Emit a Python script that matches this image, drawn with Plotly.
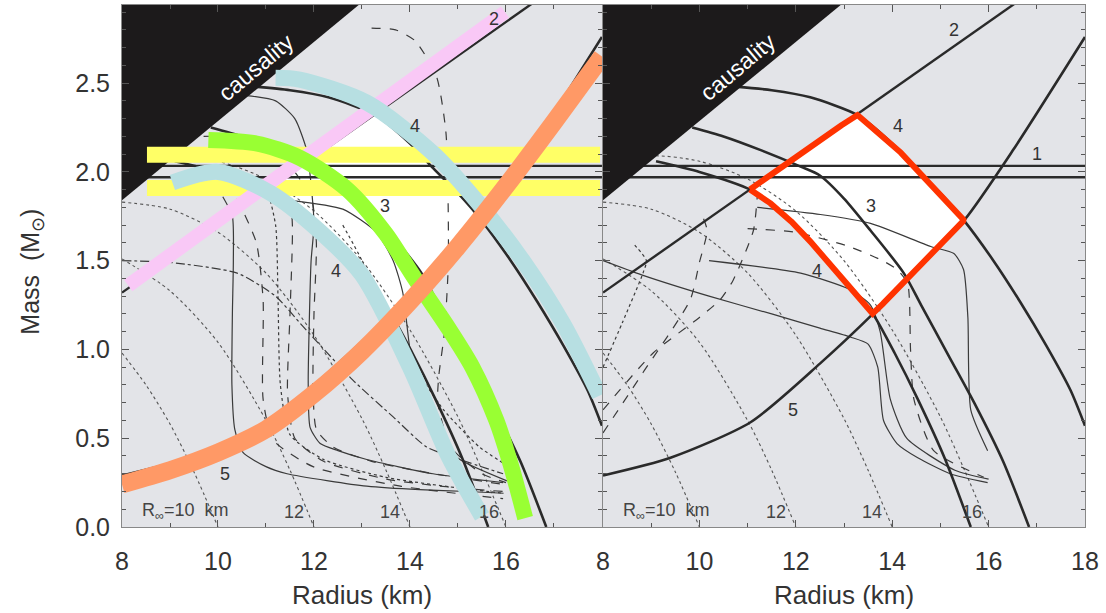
import numpy as np
import plotly.graph_objects as go

# ---------------- data (R in km, M in solar masses) ----------------
caus_R = [8.0, 13.2]
caus_M = [1.84, 3.0]

line1_R = [8.0, 18.0]
line1_lo = [1.97, 1.97]
line1_hi = [2.034, 2.034]

line2_R = [8.0, 17.0]
line2_M = [1.32, 3.035]

A_R = [10.75, 11.5, 12.3, 13.28, 14.0, 14.45, 15.0, 15.48, 16.1, 16.65, 17.2, 17.7, 18.0]
A_M = [2.48, 2.46, 2.42, 2.32, 2.16, 2.03, 1.88, 1.73, 1.5, 1.27, 1.02, 0.77, 0.57]

B_R = [9.85, 10.5, 11.3, 12.1, 12.5, 13.0, 13.55, 14.24, 14.6, 15.2, 15.7, 16.3, 16.84]
B_M = [2.25, 2.2, 2.12, 2.03, 1.98, 1.85, 1.67, 1.43, 1.25, 0.95, 0.7, 0.37, 0.0]

C_R = [9.1, 10.0, 11.06, 11.6, 12.1, 12.65, 13.1, 13.6, 14.05, 14.53, 15.1, 15.63]
C_M = [2.06, 2.0, 1.9, 1.8, 1.67, 1.5, 1.36, 1.2, 0.98, 0.72, 0.38, 0.0]

K5_R = [8.0, 9.4, 11.06, 12.5, 13.6, 14.5, 15.5, 16.5, 18.0]
K5_M = [0.29, 0.39, 0.59, 0.92, 1.2, 1.45, 1.73, 2.12, 2.76]

# constant R_infinity curves (dotted)
rinf10_R = [8.0, 8.5, 9.0, 9.5, 10.0]
rinf10_M = [0.98, 0.80, 0.58, 0.31, 0.0]
rinf12_R = [8.0, 9.0, 10.0, 11.0, 11.5, 12.0]
rinf12_M = [1.51, 1.33, 1.04, 0.60, 0.32, 0.0]
rinf14_R = [8.0, 9.0, 10.0, 11.0, 12.0, 13.0, 13.5, 14.0]
rinf14_M = [1.83, 1.79, 1.66, 1.43, 1.08, 0.61, 0.32, 0.0]
rinf16_R = [8.0, 9.0, 10.0, 11.0, 12.0, 13.0, 14.0, 15.0, 15.5, 16.0]
rinf16_M = [2.03, 2.09, 2.06, 1.96, 1.78, 1.50, 1.11, 0.62, 0.32, 0.0]

# thin EOS curves, left panel
L1_R = [10.1, 10.3, 10.32, 10.3, 10.29, 10.35, 10.52, 11.0, 11.44, 12.3, 13.1, 14.2, 15.2, 15.95]
L1_M = [1.86, 1.75, 1.5, 1.2, 0.8, 0.55, 0.42, 0.34, 0.3, 0.26, 0.23, 0.21, 0.2, 0.19]
L2_R = [10.6, 11.2, 11.6, 11.85, 11.95, 12.0, 11.94, 11.9, 11.88, 11.92, 12.13, 12.5, 13.1, 14.48, 15.94]
L2_M = [2.43, 2.40, 2.3, 2.12, 1.9, 1.7, 1.5, 1.13, 0.81, 0.56, 0.47, 0.43, 0.38, 0.30, 0.25]
L3_R = [10.4, 10.8, 10.94, 10.94, 11.15, 11.98, 13.8, 15.94]
L3_M = [1.85, 1.6, 1.28, 0.72, 0.49, 0.34, 0.23, 0.16]
L4_R = [10.5, 11.0, 11.2, 11.25, 11.3, 11.5, 12.2, 13.5, 15.0, 15.95]
L4_M = [2.0, 1.9, 1.7, 1.3, 0.8, 0.52, 0.38, 0.28, 0.22, 0.19]
L5_R = [11.6, 11.95, 12.05, 12.0, 11.98, 12.05, 12.4, 13.2, 14.5, 15.95]
L5_M = [2.0, 1.85, 1.6, 1.2, 0.8, 0.55, 0.45, 0.37, 0.3, 0.24]
L6_R = [11.5, 12.6, 13.3, 13.65, 13.85, 14.0, 14.21, 14.48, 15.04, 16.02]
L6_M = [1.84, 1.79, 1.66, 1.5, 1.32, 1.0, 0.75, 0.53, 0.38, 0.26]
L7_R = [13.2, 13.7, 14.1, 14.55, 14.75, 14.8, 14.72, 14.6, 14.58, 14.85, 15.5, 16.0]
L7_M = [2.81, 2.8, 2.74, 2.54, 2.22, 1.5, 1.1, 0.85, 0.7, 0.45, 0.3, 0.25]
L8_R = [9.7, 10.7, 11.2, 11.45, 11.55, 11.5, 11.45, 11.6, 12.2, 13.5, 15.0, 15.95]
L8_M = [2.2, 2.19, 2.1, 1.98, 1.7, 1.2, 0.75, 0.5, 0.37, 0.27, 0.22, 0.2]
L9_R = [8.0, 9.0, 10.4, 11.2, 11.77, 12.8, 13.65, 14.35, 15.04, 15.94]
L9_M = [1.5, 1.49, 1.43, 1.3, 1.13, 0.83, 0.62, 0.45, 0.38, 0.3]
L10_R = [12.6, 13.0, 13.4, 14.0, 14.7, 15.45, 16.0]
L10_M = [1.7, 1.5, 1.22, 0.94, 0.66, 0.45, 0.35]

# thin EOS curves, right panel
Ra1_R = [8.0, 8.8, 10.2, 11.5, 12.5, 13.13, 13.5, 13.7, 13.82, 14.1, 14.53, 15.2, 15.98]
Ra1_M = [1.5, 1.42, 1.3, 1.2, 1.12, 1.07, 1.03, 0.9, 0.6, 0.47, 0.39, 0.3, 0.25]
Ra2_R = [10.2, 12.1, 13.1, 13.55, 13.75, 13.96, 14.3, 15.3, 16.0]
Ra2_M = [1.5, 1.43, 1.34, 1.25, 1.1, 0.72, 0.5, 0.32, 0.27]
Rb_R = [11.2, 12.51, 13.55, 14.8, 15.28, 15.48, 15.57, 15.63, 15.98]
Rb_M = [1.80, 1.76, 1.71, 1.58, 1.54, 1.45, 1.18, 0.66, 0.43]
Rc_R = [11.0, 12.0, 13.1, 13.8, 14.1, 14.32, 14.38, 14.45, 14.86, 15.9]
Rc_M = [1.68, 1.66, 1.58, 1.5, 1.45, 1.37, 1.0, 0.72, 0.43, 0.28]
Rs1_R = [8.0, 8.83, 9.81, 10.0, 10.16, 10.05]
Rs1_M = [0.53, 0.87, 1.28, 1.49, 1.67, 1.76]
Rs2_R = [8.0, 9.04, 10.0, 10.43, 10.7, 11.12, 11.2]
Rs2_M = [0.66, 0.98, 1.18, 1.28, 1.39, 1.67, 1.86]
Rs3_R = [8.0, 8.4, 8.83, 8.9, 8.62]
Rs3_M = [0.9, 1.15, 1.43, 1.5, 1.6]

# coloured bands (left panel)
pink_R = [8.13, 15.98]
pink_M = [1.36, 2.90]
yellow_R = [8.52, 17.96]
yellow1_M = [2.096, 2.096]
yellow2_M = [1.91, 1.91]
green_R = [9.8, 10.8, 11.7, 12.7, 13.5, 14.1, 14.8, 15.3, 15.8, 16.1, 16.4]
green_M = [2.18, 2.16, 2.08, 1.9, 1.65, 1.4, 1.12, 0.9, 0.6, 0.35, 0.05]
blue1_R = [11.2, 11.7, 13.1, 14.5, 15.5, 16.35, 17.2, 17.95]
blue1_M = [2.53, 2.52, 2.39, 2.1, 1.8, 1.5, 1.14, 0.74]
blue2_R = [9.05, 10.0, 11.1, 12.1, 13.0, 14.0, 14.8, 15.5]
blue2_M = [1.94, 2.0, 1.88, 1.67, 1.42, 0.9, 0.4, 0.06]
orange_R = [8.0, 9.0, 10.0, 11.0, 12.0, 13.0, 14.0, 15.0, 16.0, 17.0, 18.0]
orange_M = [0.24, 0.32, 0.42, 0.55, 0.75, 0.99, 1.27, 1.58, 1.92, 2.28, 2.65]

# text labels
num_labels_right = ["1", "2", "4", "3", "4", "5"]
num_R_right = [17.0, 15.28, 14.11, 13.55, 12.45, 11.95]
num_M_right = [2.1, 2.8, 2.26, 1.81, 1.44, 0.66]
num_labels_left = ["2", "4", "3", "4", "5"]
num_R_left = [15.75, 14.11, 13.48, 12.45, 10.15]
num_M_left = [2.86, 2.26, 1.81, 1.44, 0.3]
rinf_labels = ["R<sub>∞</sub>=10  km", "12", "14", "16"]
rinf_label_R = [8.38, 11.58, 13.59, 15.65]
rinf_label_M = 0.085

# ---------------- figure ----------------
fig = go.Figure()
INK = "#2a2a2a"
THIN = "#3a3a3a"


def add(xs, ys, ax, **kw):
    fig.add_trace(go.Scatter(x=xs, y=ys, xaxis=ax[0], yaxis=ax[1], mode="lines",
                             hoverinfo="skip", showlegend=False, **kw))


# allowed region, derived from the constraint curves
g = np.linspace(9.0, 18.0, 1200)
up = np.minimum(np.interp(g, line2_R, line2_M),
                np.interp(g, A_R, A_M, left=np.nan, right=np.nan))
lo = np.maximum(np.interp(g, C_R, C_M, left=np.nan, right=np.nan),
                np.interp(g, K5_R, K5_M))
mask = up > lo
gx = g[mask]
poly_x = np.concatenate([gx, gx[::-1], gx[:1]])
poly_y = np.concatenate([up[mask], lo[mask][::-1], up[mask][:1]])

panels = [("x", "y"), ("x2", "y2")]
for ax in panels:
    add(poly_x, poly_y, ax, fill="toself", fillcolor="white", line=dict(width=0))
    for rr, mm in [(rinf10_R, rinf10_M), (rinf12_R, rinf12_M), (rinf14_R, rinf14_M), (rinf16_R, rinf16_M)]:
        add(rr, mm, ax, line=dict(color="#555", width=1.1, dash="dot", shape="spline", smoothing=0.8))

left_thin = [(L1_R, L1_M, "solid"), (L2_R, L2_M, "solid"), (L3_R, L3_M, "dash"), (L4_R, L4_M, "dot"),
             (L5_R, L5_M, "dash"), (L6_R, L6_M, "solid"), (L7_R, L7_M, "dash"), (L8_R, L8_M, "dash"),
             (L9_R, L9_M, "dashdot"), (L10_R, L10_M, "dot")]
for rr, mm, ds in left_thin:
    add(rr, mm, panels[0], line=dict(color=THIN, width=1.2, dash=ds, shape="spline", smoothing=0.6))

right_thin = [(Ra1_R, Ra1_M, "solid"), (Ra2_R, Ra2_M, "solid"), (Rb_R, Rb_M, "solid"), (Rc_R, Rc_M, "dash"),
              (Rs1_R, Rs1_M, "dash"), (Rs2_R, Rs2_M, "dash"), (Rs3_R, Rs3_M, "dot")]
for rr, mm, ds in right_thin:
    add(rr, mm, panels[1], line=dict(color=THIN, width=1.2, dash=ds, shape="spline", smoothing=0.6))

for ax in panels:
    add(line1_R, line1_lo, ax, line=dict(color=INK, width=2.4))
    add(line1_R, line1_hi, ax, line=dict(color=INK, width=2.4))
    add(line2_R, line2_M, ax, line=dict(color=INK, width=2.4))
    for rr, mm in [(A_R, A_M), (B_R, B_M), (C_R, C_M), (K5_R, K5_M)]:
        add(rr, mm, ax, line=dict(color=INK, width=2.6, shape="spline", smoothing=0.7))
    # causality triangle (above the causality line)
    add([caus_R[0], caus_R[1], caus_R[0], caus_R[0]], [caus_M[0], caus_M[1], caus_M[1], caus_M[0]], ax,
        fill="toself", fillcolor="#1c1a1b", line=dict(width=0, color="#1c1a1b"))

# bands in left panel
BW = 16
add(yellow_R, yellow1_M, panels[0], line=dict(color="#ffff66", width=BW))
add(yellow_R, yellow2_M, panels[0], line=dict(color="#ffff66", width=BW))
add(pink_R, pink_M, panels[0], line=dict(color="#f9c8f6", width=14))
add(green_R, green_M, panels[0], line=dict(color="#99ff33", width=BW, shape="spline", smoothing=0.8))
add(blue1_R, blue1_M, panels[0], line=dict(color="#b7dfe2", width=BW, shape="spline", smoothing=0.8))
add(blue2_R, blue2_M, panels[0], line=dict(color="#b7dfe2", width=BW, shape="spline", smoothing=0.8))
add(orange_R, orange_M, panels[0], line=dict(color="#ff9966", width=18, shape="spline", smoothing=0.8))

# red outline in right panel
add(poly_x, poly_y, panels[1], line=dict(color="#ff3300", width=6))

annotations = []
for xr, labs, R_list, M_list in [("x", num_labels_left, num_R_left, num_M_left),
                                 ("x2", num_labels_right, num_R_right, num_M_right)]:
    for t, r, m in zip(labs, R_list, M_list):
        annotations.append(dict(x=r, y=m, xref=xr, yref="y", text=t, showarrow=False,
                                font=dict(size=18, color="#333")))
    for i, (t, r) in enumerate(zip(rinf_labels, rinf_label_R)):
        annotations.append(dict(x=r, y=rinf_label_M, xref=xr, yref="y", text=t, showarrow=False,
                                xanchor="left" if i == 0 else "center",
                                font=dict(size=18, color="#444")))
    annotations.append(dict(x=10.8, y=2.59, xref=xr, yref="y", text="causality", showarrow=False,
                            textangle=-40, font=dict(size=23, color="white")))

annotations.append(dict(x=0.249, y=-0.13, xref="paper", yref="paper", text="Radius (km)",
                        xanchor="center", yanchor="middle",
                        showarrow=False, font=dict(size=26, color="#333")))
annotations.append(dict(x=0.75, y=-0.13, xref="paper", yref="paper", text="Radius (km)",
                        xanchor="center", yanchor="middle",
                        showarrow=False, font=dict(size=26, color="#333")))
annotations.append(dict(x=-0.093, y=0.49, xref="paper", yref="paper", text="Mass  (M<sub>⊙</sub>)",
                        xanchor="center", yanchor="middle",
                        textangle=-90, showarrow=False, font=dict(size=25, color="#333")))

FONT = "Liberation Sans, Arial, sans-serif"
xcommon = dict(range=[8, 18], ticks="inside", ticklen=7, tickcolor="#555", showline=True,
               linecolor="#888", linewidth=1, mirror="ticks", showgrid=False, zeroline=False,
               tickfont=dict(size=25, color="#333"), ticklabelstandoff=12,
               minor=dict(ticks="inside", ticklen=4, dtick=1, tick0=8, tickcolor="#555"))
ycommon = dict(range=[0, 2.94], ticks="inside", ticklen=7, tickcolor="#555", showline=True,
               linecolor="#888", linewidth=1, mirror="ticks", showgrid=False, zeroline=False,
               dtick=0.5, tick0=0, tickformat=".1f",
               minor=dict(ticks="inside", ticklen=4, dtick=0.1, tick0=0, tickcolor="#555"))

fig.update_layout(
    width=1106, height=613,
    margin=dict(l=122, r=21, t=5, b=86),
    paper_bgcolor="white", plot_bgcolor="#e3e4e8",
    font=dict(family=FONT),
    showlegend=False,
    xaxis=dict(domain=[0, 0.4984], tickmode="array", tickvals=[8, 10, 12, 14, 16], anchor="y", **xcommon),
    xaxis2=dict(domain=[0.4995, 1], tickmode="array", tickvals=[8, 10, 12, 14, 16, 18], anchor="y2", **xcommon),
    yaxis=dict(anchor="x", tickfont=dict(size=25, color="#333"), ticklabelstandoff=6, **ycommon),
    yaxis2=dict(anchor="x2", matches="y", showticklabels=False, **ycommon),
    annotations=annotations,
)

fig.write_html("out.html")
